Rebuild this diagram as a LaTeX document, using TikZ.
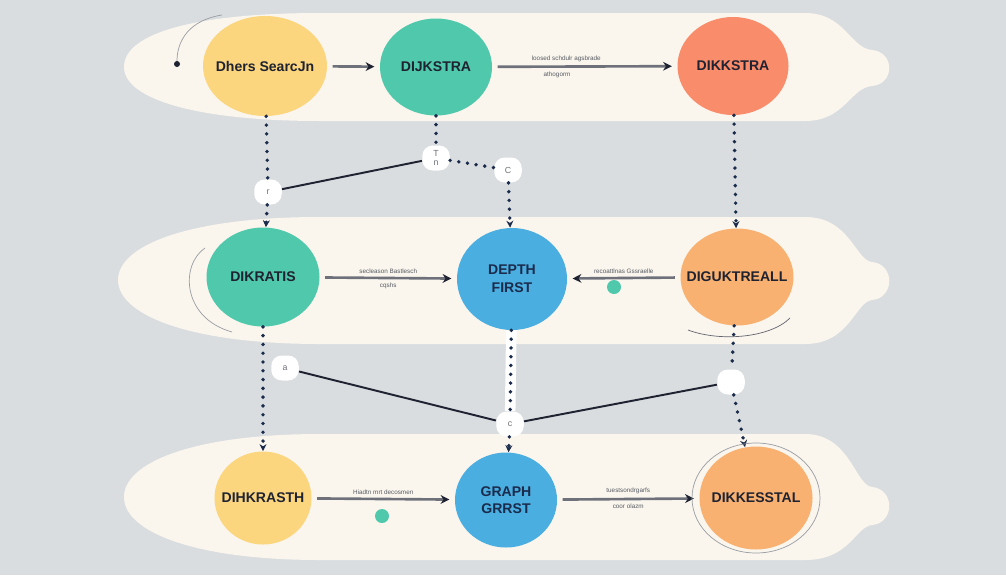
\documentclass[tikz,border=0pt]{standalone}
\usepackage{fontspec}
\setsansfont{Liberation Sans}
\usetikzlibrary{arrows.meta, positioning, shapes.geometric}
\definecolor{PageGray}{HTML}{D9DDDF}
\definecolor{BandCream}{HTML}{FAF6EE}
\definecolor{NodeYellow}{HTML}{FBD67E}
\definecolor{NodeTeal}{HTML}{4FC8AB}
\definecolor{NodeSalmon}{HTML}{F98C6B}
\definecolor{NodeApricot}{HTML}{F8B171}
\definecolor{NodeBlue}{HTML}{4BAEE0}
\definecolor{InkDark}{HTML}{1F2230}
\definecolor{InkNavy}{HTML}{1A2B4C}
\definecolor{LineGray}{HTML}{6E717A}

\begin{document}
\begin{tikzpicture}[
            x=0.02cm, y=-0.02cm, >=Stealth,
            dims/.style 2 args = {minimum width=#1*0.02cm, minimum height=#2*0.02cm},
            algo/.style = {ellipse, inner sep=-6pt, align=center, font=\sffamily\bfseries\fontsize{8}{10}\selectfont, text=InkDark},
            note/.style = {font=\sffamily\fontsize{3.6}{4}\selectfont, text=LineGray!80!black, inner sep=2pt},
            flow/.style = {draw=LineGray, line width=1.5pt, -{Stealth[length=5pt, width=5pt, color=InkDark]}, shorten >=3pt, shorten <=3pt},
            chain/.style = {draw=InkNavy, line width=2.2pt, line cap=round, dash pattern=on 0pt off 5pt},
            halo/.style = {preaction={draw=white, line width=6pt, dash pattern=, line cap=butt}},
            link/.style = {draw=InkDark, line width=1.1pt},
            knot/.style = {fill=white, rounded corners=6pt, inner sep=2.5pt, minimum width=0.55cm, minimum height=0.5cm, align=center, font=\sffamily\fontsize{5}{5.5}\selectfont, text=LineGray},
            spot/.style = {circle, fill=NodeTeal, minimum size=0.28cm, inner sep=0pt},
            trace/.style = {draw=LineGray!70, line width=0.4pt}
        ]
            \fill[PageGray] (0,0) rectangle (1006,575);
            \useasboundingbox (0,0) rectangle (1006,575);

            % bands
            \fill[BandCream] (320,13) -- (805,13) .. controls (845,13) and (850,48) .. (872,50) .. controls (895,52) and (895,84) .. (872,86) .. controls (850,88) and (845,121) .. (805,121) -- (320,121) .. controls (200,121) and (124,100) .. (124,67) .. controls (124,32) and (200,13) .. (320,13) -- cycle;
            \fill[BandCream] (320,217) -- (805,217) .. controls (850,217) and (855,260) .. (872,262) .. controls (895,264) and (895,298) .. (872,300) .. controls (855,302) and (850,344) .. (805,344) -- (320,344) .. controls (190,344) and (118,315) .. (118,280) .. controls (118,245) and (190,217) .. (320,217) -- cycle;
            \fill[BandCream] (320,434) -- (805,434) .. controls (850,434) and (855,485) .. (872,487) .. controls (895,489) and (895,523) .. (872,525) .. controls (855,527) and (850,560) .. (805,560) -- (320,560) .. controls (195,560) and (124,532) .. (124,497) .. controls (124,462) and (195,434) .. (320,434) -- cycle;

            % algorithm nodes
            \node [algo, fill=NodeYellow, dims={124}{100}] (dfs) at (265,66) {Dhers SearcJn};
            \node [algo, fill=NodeTeal, dims={112}{97}] (dijkstra) at (436,67) {DIJKSTRA};
            \node [algo, fill=NodeSalmon, dims={111}{98}] (dikkstra) at (733,66) {DIKKSTRA};
            \node [algo, fill=NodeTeal, dims={113}{99}] (dikratis) at (263,277) {DIKRATIS};
            \node [algo, fill=NodeBlue, text=InkNavy, dims={110}{102}] (depth) at (512,279) {DEPTH\\FIRST};
            \node [algo, fill=NodeApricot, dims={113}{97}] (digukt) at (737,277) {DIGUKTREALL};
            \node [algo, fill=NodeYellow, dims={97}{93}] (dihkra) at (263,498) {DIHKRASTH};
            \node [algo, fill=NodeBlue, text=InkNavy, dims={102}{95}] (graph) at (506,500) {GRAPH\\GRRST};
            \node [algo, fill=NodeApricot, dims={113}{103}] (dikkes) at (756,498) {DIKKESSTAL};

            % junctions
            \node [knot] (kn1) at (268,192) {r};
            \node [knot] (kn2) at (436,158) {T\\n};
            \node [knot] (kn3) at (508,170) {C};
            \node [knot] (kn4) at (285,368) {a};
            \node [knot] (kn5) at (510,424) {c};
            \node [knot] (kn6) at (731,382) {};
            \node [spot] (dotA) at (614,287) {};
            \node [spot] (dotB) at (382,516) {};
            \coordinate (inlet) at (177,64);

            % row links
            \draw [flow] (dfs) -- (dijkstra);
            \draw [flow] (dijkstra) -- node[note, above, pos=0.4] {loosed schdulr agsbrade} node[note, below, pos=0.35] {athogorm} (dikkstra);
            \draw [flow] (dikratis) -- node[note, above] {secleason Bastlesch} node[note, below] {cqshs} (depth);
            \draw [flow] (digukt) -- node[note, above] {recoattlnas Gssraelle} (depth);
            \draw [flow] (dihkra) -- node[note, above] {Hiadtn mrt decosmen} (graph);
            \draw [flow] (graph) -- node[note, above] {tuestsondrgarfs} node[note, below] {coor olazm} (dikkes);

            % column links
            \draw [chain] (dfs) -- (kn1);
            \draw [chain, -{Stealth[length=4pt, width=4pt]}] (kn1) -- (dikratis);
            \draw [chain] (dijkstra) -- (kn2);
            \draw [link] (kn2) -- (kn1);
            \draw [chain] (kn2) -- (kn3);
            \draw [chain, -{Stealth[length=4pt, width=4pt]}] (kn3) -- (depth);
            \draw [chain, -{Stealth[length=4pt, width=4pt]}] (dikkstra) -- (digukt);
            \draw [chain, -{Stealth[length=4pt, width=4pt]}] (dikratis) -- (dihkra);
            \draw [link] (kn4) -- (kn5);
            \draw [chain, halo] (depth) -- (kn5);
            \draw [chain, -{Stealth[length=4pt, width=4pt]}] (kn5) -- (graph);
            \draw [chain] (digukt) -- (kn6);
            \draw [chain, -{Stealth[length=4pt, width=4pt]}] (kn6) -- (dikkes);
            \draw [link] (kn6) -- (kn5);

            % faint strokes
            \draw [trace] (222,15) .. controls (190,20) and (176,40) .. (inlet);
            \fill [InkDark] (inlet) circle [radius=3];
            \draw [trace] (205,248) .. controls (180,265) and (182,318) .. (232,332);
            \draw [trace] (dikkes.center) ellipse [x radius=64, y radius=55];
            \draw [trace, InkDark!70] (688,330) .. controls (720,342) and (770,338) .. (790,318);
        \end{tikzpicture}
\end{document}
